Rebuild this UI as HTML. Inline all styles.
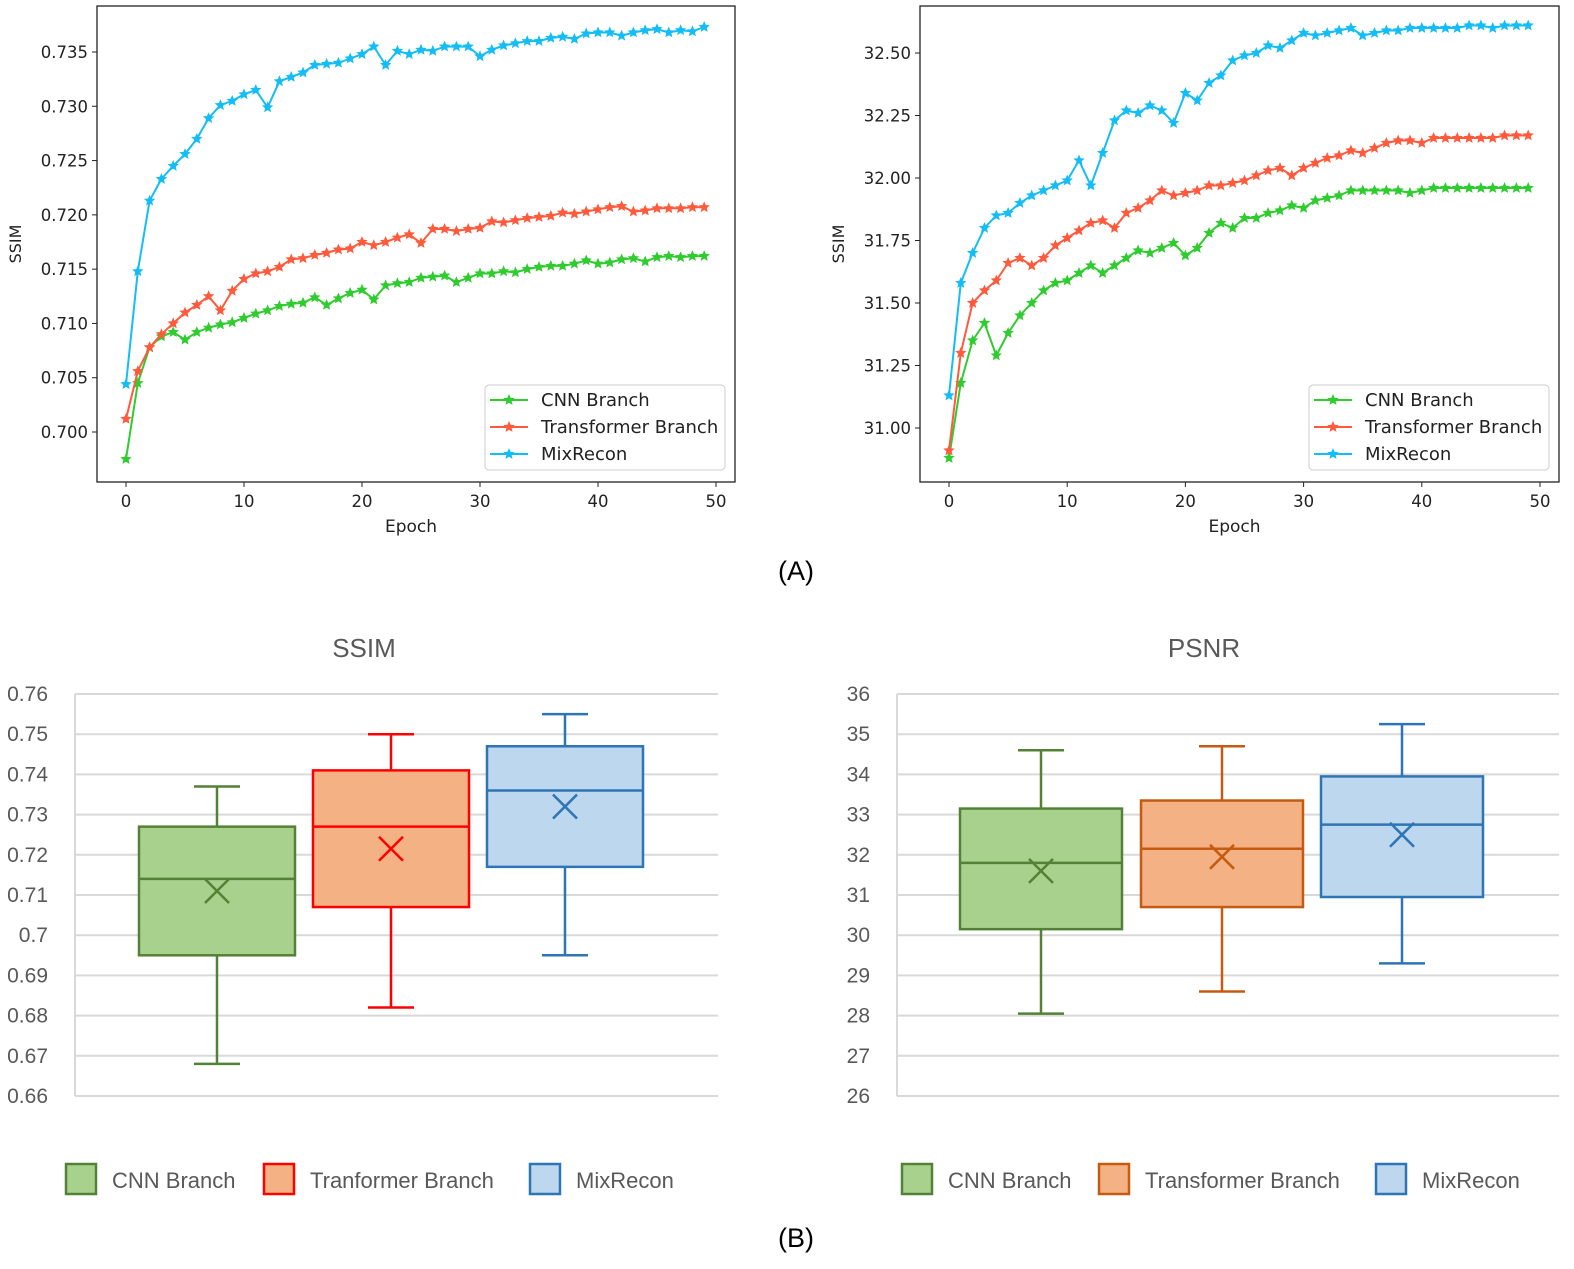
<!DOCTYPE html>
<html><head><meta charset="utf-8"><style>
html,body{margin:0;padding:0;background:#fff;}
svg{display:block;}
</style></head><body>
<svg id="s" width="1574" height="1269" xmlns="http://www.w3.org/2000/svg"></svg>
<script>
const epochs = Array.from({length:50},(_,i)=>i);
const ssimCnn = [0.6975,0.7045,0.7078,0.7088,0.7092,0.7085,0.7092,0.7096,0.7099,0.7101,0.7105,0.7109,0.7112,0.7116,0.7118,0.7119,0.7124,0.7117,0.7123,0.7128,0.7131,0.7122,0.7135,0.7137,0.7138,0.7142,0.7143,0.7144,0.7138,0.7142,0.7146,0.7146,0.7148,0.7147,0.7150,0.7152,0.7153,0.7153,0.7155,0.7158,0.7155,0.7156,0.7159,0.7160,0.7157,0.7161,0.7162,0.7161,0.7162,0.7162];
const ssimTrans = [0.7012,0.7056,0.7078,0.7090,0.7100,0.7110,0.7117,0.7125,0.7112,0.7130,0.7141,0.7146,0.7148,0.7152,0.7159,0.7160,0.7163,0.7165,0.7168,0.7169,0.7175,0.7172,0.7175,0.7179,0.7182,0.7174,0.7187,0.7187,0.7185,0.7187,0.7188,0.7194,0.7193,0.7195,0.7197,0.7198,0.7199,0.7202,0.7201,0.7203,0.7205,0.7207,0.7208,0.7203,0.7204,0.7206,0.7206,0.7206,0.7207,0.7207];
const ssimMix = [0.7044,0.7148,0.7213,0.7233,0.7245,0.7256,0.7270,0.7289,0.7301,0.7305,0.7311,0.7315,0.7299,0.7323,0.7327,0.7331,0.7338,0.7339,0.7340,0.7344,0.7348,0.7355,0.7338,0.7351,0.7348,0.7352,0.7351,0.7355,0.7355,0.7355,0.7346,0.7352,0.7356,0.7358,0.7360,0.7360,0.7363,0.7364,0.7362,0.7367,0.7368,0.7368,0.7365,0.7368,0.7370,0.7371,0.7368,0.7370,0.7369,0.7373];
const psnrCnn = [30.88,31.18,31.35,31.42,31.29,31.38,31.45,31.50,31.55,31.58,31.59,31.62,31.65,31.62,31.65,31.68,31.71,31.70,31.72,31.74,31.69,31.72,31.78,31.82,31.80,31.84,31.84,31.86,31.87,31.89,31.88,31.91,31.92,31.93,31.95,31.95,31.95,31.95,31.95,31.94,31.95,31.96,31.96,31.96,31.96,31.96,31.96,31.96,31.96,31.96];
const psnrTrans = [30.91,31.30,31.50,31.55,31.59,31.66,31.68,31.65,31.68,31.73,31.76,31.79,31.82,31.83,31.80,31.86,31.88,31.91,31.95,31.93,31.94,31.95,31.97,31.97,31.98,31.99,32.01,32.03,32.04,32.01,32.04,32.06,32.08,32.09,32.11,32.10,32.12,32.14,32.15,32.15,32.14,32.16,32.16,32.16,32.16,32.16,32.16,32.17,32.17,32.17];
const psnrMix = [31.13,31.58,31.70,31.80,31.85,31.86,31.90,31.93,31.95,31.97,31.99,32.07,31.97,32.10,32.23,32.27,32.26,32.29,32.27,32.22,32.34,32.31,32.38,32.41,32.47,32.49,32.50,32.53,32.52,32.55,32.58,32.57,32.58,32.59,32.60,32.57,32.58,32.59,32.59,32.60,32.60,32.60,32.60,32.60,32.61,32.61,32.60,32.61,32.61,32.61];
const xTicks = [0,10,20,30,40,50];
const ssimTicks = [0.700,0.705,0.710,0.715,0.720,0.725,0.730,0.735];
const psnrTicks = [31.00,31.25,31.50,31.75,32.00,32.25,32.50];
const boxCats = ["CNN Branch","Transformer Branch","MixRecon"];
// [min,q1,median,q3,max,mean]
const ssimBoxCnn = [0.668,0.695,0.714,0.727,0.737,0.711];
const ssimBoxTrans = [0.682,0.707,0.727,0.741,0.750,0.7215];
const ssimBoxMix = [0.695,0.717,0.736,0.747,0.755,0.732];
const psnrBoxCnn = [28.05,30.15,31.8,33.15,34.6,31.6];
const psnrBoxTrans = [28.6,30.7,32.15,33.35,34.7,31.95];
const psnrBoxMix = [29.3,30.95,32.75,33.95,35.25,32.5];
const ssimBoxTicks = [0.66,0.67,0.68,0.69,0.7,0.71,0.72,0.73,0.74,0.75,0.76];
const psnrBoxTicks = [26,27,28,29,30,31,32,33,34,35,36];

const NS="http://www.w3.org/2000/svg";
const svg=document.getElementById('s');
function mk(tag,attrs,parent,name){const e=document.createElementNS(NS,tag);for(const k in attrs)e.setAttribute(k,attrs[k]);


(parent||svg).appendChild(e);return e;}
function txt(x,y,s,attrs,name,parent){const e=mk('text',Object.assign({x:x,y:y},attrs),parent,name);e.textContent=s;return e;}
const MPL='font-family:"DejaVu Sans","Liberation Sans",sans-serif;';
function star(cx,cy,r){let p=[];for(let i=0;i<10;i++){const a=-Math.PI/2+i*Math.PI/5;const rr=i%2?r*0.45:r;p.push((cx+rr*Math.cos(a)).toFixed(1)+','+(cy+rr*Math.sin(a)).toFixed(1));}return p.join(' ');}

function lineChart(cfg){
  const g=mk('g',{},svg,cfg.name);
  const X=v=>cfg.x0+(v-0)*(cfg.x50-cfg.x0)/50;
  const Y=v=>cfg.ya+(v-cfg.va)*(cfg.yb-cfg.ya)/(cfg.vb-cfg.va);
  mk('rect',{x:cfg.L,y:cfg.T,width:cfg.R-cfg.L,height:cfg.B-cfg.T,fill:'none',stroke:'#222','stroke-width':1.3},g,'plot-frame');
  xTicks.forEach(t=>{mk('line',{x1:X(t),x2:X(t),y1:cfg.B,y2:cfg.B+5,stroke:'#222'},g,'x-tick');
    txt(X(t),cfg.B+25,String(t),{'text-anchor':'middle',style:MPL+'font-size:16.5px',fill:'#222'},'x-tick-label',g);});
  cfg.ticks.forEach(t=>{mk('line',{x1:cfg.L-5,x2:cfg.L,y1:Y(t),y2:Y(t),stroke:'#222'},g,'y-tick');
    txt(cfg.L-9,Y(t)+6,t.toFixed(cfg.dec),{'text-anchor':'end',style:MPL+'font-size:16.5px',fill:'#222'},'y-tick-label',g);});
  txt((cfg.L+cfg.R)/2-5,cfg.B+50,'Epoch',{'text-anchor':'middle',style:MPL+'font-size:17px',fill:'#222'},'x-axis-title',g);
  txt(cfg.L-76,(cfg.T+cfg.B)/2,'SSIM',{'text-anchor':'middle',transform:`rotate(-90 ${cfg.L-76} ${(cfg.T+cfg.B)/2})`,style:MPL+'font-size:16px',fill:'#222'},'y-axis-title',g);
  cfg.series.forEach(s=>{
    const pts=epochs.map(i=>X(i).toFixed(1)+','+Y(s.d[i]).toFixed(1)).join(' ');
    mk('polyline',{points:pts,fill:'none',stroke:s.c,'stroke-width':2},g,s.n+'-line');
    epochs.forEach(i=>mk('polygon',{points:star(X(i),Y(s.d[i]),6),fill:s.c},g,s.n+'-marker'));
  });
  const lx=cfg.R-250, ly=cfg.B-97;
  mk('rect',{x:lx,y:ly,width:240,height:85,rx:4,fill:'#fff',stroke:'#ccc'},g,'legend-box');
  cfg.series.forEach((s,k)=>{const yy=ly+15+k*27;
    mk('line',{x1:lx+5,x2:lx+43,y1:yy,y2:yy,stroke:s.c,'stroke-width':2},g,'legend-line');
    mk('polygon',{points:star(lx+24,yy,6),fill:s.c},g,'legend-marker');
    txt(lx+56,yy+6,s.label,{style:MPL+'font-size:18px',fill:'#222'},'legend-entry',g);});
}
const cols={g:'#2ecc2e',r:'#ff5a3c',b:'#14bdf5'};
lineChart({name:'ssim-line-chart',L:97,R:735,T:6,B:482,x0:126,x50:716,ya:432,va:0.700,yb:52,vb:0.735,ticks:ssimTicks,dec:3,
 series:[{n:'cnn',c:cols.g,d:ssimCnn,label:'CNN Branch'},{n:'transformer',c:cols.r,d:ssimTrans,label:'Transformer Branch'},{n:'mixrecon',c:cols.b,d:ssimMix,label:'MixRecon'}]});
lineChart({name:'psnr-line-chart',L:920,R:1559,T:6,B:482,x0:949,x50:1540,ya:428,va:31.00,yb:53,vb:32.50,ticks:psnrTicks,dec:2,
 series:[{n:'cnn',c:cols.g,d:psnrCnn,label:'CNN Branch'},{n:'transformer',c:cols.r,d:psnrTrans,label:'Transformer Branch'},{n:'mixrecon',c:cols.b,d:psnrMix,label:'MixRecon'}]});

const SEG='font-family:"Liberation Sans",sans-serif;';
txt(796,580,'(A)',{'text-anchor':'middle',style:SEG+'font-size:27px',fill:'#000'},'panel-a-label');
txt(796,1247,'(B)',{'text-anchor':'middle',style:SEG+'font-size:27px',fill:'#000'},'panel-b-label');

function boxChart(cfg){
  const g=mk('g',{},svg,cfg.name);
  const Y=v=>cfg.yTop+(cfg.vTop-v)*(cfg.yBot-cfg.yTop)/(cfg.vTop-cfg.vBot);
  txt(cfg.titleX,657,cfg.title,{'text-anchor':'middle',style:SEG+'font-size:26px',fill:'#595959'},'chart-title',g);
  cfg.ticks.forEach(t=>{mk('line',{x1:cfg.L,x2:cfg.R,y1:Y(t),y2:Y(t),stroke:'#d9d9d9','stroke-width':2},g,'gridline');
    txt(cfg.L-27,Y(t)+7,String(t),{'text-anchor':'end',style:SEG+'font-size:21px',fill:'#595959'},'y-tick-label',g);});
  mk('line',{x1:cfg.L,x2:cfg.L,y1:Y(cfg.vTop),y2:Y(cfg.vBot),stroke:'#d9d9d9','stroke-width':2},g,'y-axis-line');
  cfg.boxes.forEach((b,k)=>{const cx=cfg.cx[k],w=cfg.w,d=b.d;const sg=mk('g',{},g,'box-'+b.n);
    mk('line',{x1:cx,x2:cx,y1:Y(d[4]),y2:Y(d[3]),stroke:b.s,'stroke-width':2.5},sg,'upper-whisker');
    mk('line',{x1:cx,x2:cx,y1:Y(d[1]),y2:Y(d[0]),stroke:b.s,'stroke-width':2.5},sg,'lower-whisker');
    mk('line',{x1:cx-23,x2:cx+23,y1:Y(d[4]),y2:Y(d[4]),stroke:b.s,'stroke-width':2.5},sg,'max-cap');
    mk('line',{x1:cx-23,x2:cx+23,y1:Y(d[0]),y2:Y(d[0]),stroke:b.s,'stroke-width':2.5},sg,'min-cap');
    mk('rect',{x:cx-w/2,y:Y(d[3]),width:w,height:Y(d[1])-Y(d[3]),fill:b.f,stroke:b.s,'stroke-width':2.5},sg,'iqr-box');
    mk('line',{x1:cx-w/2,x2:cx+w/2,y1:Y(d[2]),y2:Y(d[2]),stroke:b.s,'stroke-width':2.5},sg,'median-line');
    const my=Y(d[5]);
    mk('path',{d:`M${cx-12},${my-12}L${cx+12},${my+12}M${cx+12},${my-12}L${cx-12},${my+12}`,stroke:b.s,'stroke-width':2.5},sg,'mean-marker');
    const lx=cfg.legX[k];
    mk('rect',{x:lx,y:1164,width:30,height:30,fill:b.f,stroke:b.s,'stroke-width':2.5},g,'legend-swatch');
    txt(lx+46,1188,b.label,{style:SEG+'font-size:22px',fill:'#595959'},'legend-entry',g);
  });
}
boxChart({name:'ssim-box-chart',title:'SSIM',titleX:364,L:75,R:718,w:156,yTop:694,yBot:1096,vTop:0.76,vBot:0.66,ticks:ssimBoxTicks,cx:[217,391,565],legX:[66,264,530],
 boxes:[{n:'cnn',d:ssimBoxCnn,f:'#a9d18e',s:'#538135',label:'CNN Branch'},{n:'transformer',d:ssimBoxTrans,f:'#f4b183',s:'#ff0000',label:'Tranformer Branch'},{n:'mixrecon',d:ssimBoxMix,f:'#bdd7ee',s:'#2e75b6',label:'MixRecon'}]});
boxChart({name:'psnr-box-chart',title:'PSNR',titleX:1204,L:897,R:1559,w:162,yTop:694,yBot:1096,vTop:36,vBot:26,ticks:psnrBoxTicks,cx:[1041,1222,1402],legX:[902,1099,1376],
 boxes:[{n:'cnn',d:psnrBoxCnn,f:'#a9d18e',s:'#538135',label:'CNN Branch'},{n:'transformer',d:psnrBoxTrans,f:'#f4b183',s:'#c55a11',label:'Transformer Branch'},{n:'mixrecon',d:psnrBoxMix,f:'#bdd7ee',s:'#2e75b6',label:'MixRecon'}]});
</script>
</body></html>
